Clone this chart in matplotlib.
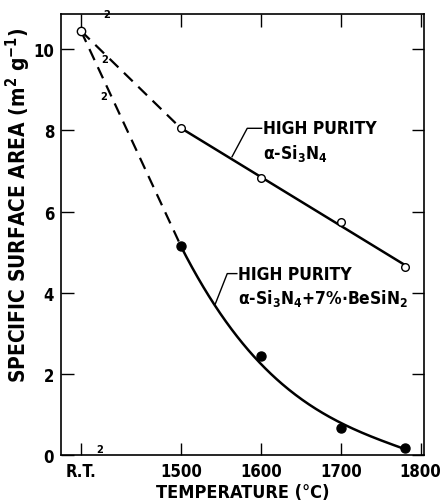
import numpy as np
import matplotlib
matplotlib.use("Agg")
import matplotlib.pyplot as plt

# ---- data ----
rt_pos = 1375                      # position used for "R.T." on the axis
x_tick_pos = [1375, 1500, 1600, 1700, 1800]
x_tick_labels = ["R.T.", "1500", "1600", "1700", "1800"]
y_ticks = [0, 2, 4, 6, 8, 10]

rt_value = 10.45                   # common room-temperature point

hp_temp = [1500, 1600, 1700, 1780]
hp_area = [8.05, 6.82, 5.74, 4.63]

be_temp = [1500, 1600, 1700, 1780]
be_area = [5.15, 2.44, 0.66, 0.17]

# smooth curve guide points (BeSiN2)
be_curve_t = [1500, 1540, 1600, 1650, 1700, 1780]
be_curve_a = [5.15, 3.75, 2.25, 1.40, 0.78, 0.15]

fam = "DejaVu Sans"
plt.rcParams["font.family"] = [fam]
plt.rcParams["font.weight"] = "bold"
plt.rcParams["font.stretch"] = "condensed"
plt.rcParams["axes.labelweight"] = "bold"
plt.rcParams["mathtext.fontset"] = "custom"
pat = fam + ":weight=bold:stretch=condensed"
plt.rcParams["mathtext.rm"] = pat
plt.rcParams["mathtext.it"] = pat
plt.rcParams["mathtext.bf"] = pat
plt.rcParams["mathtext.default"] = "regular"

fig = plt.figure(figsize=(4.42, 5.02), dpi=100)
ax = fig.add_axes([0.138, 0.0916, 0.821, 0.878])

ax.set_xlim(1350, 1804)
ax.set_ylim(0, 10.86)

# dashed connections from R.T.
ax.plot([rt_pos, hp_temp[0]], [rt_value, hp_area[0]], color="black", lw=1.6,
        ls=(0, (5.5, 3.5)))
ax.plot([rt_pos, be_temp[0]], [rt_value, be_area[0]], color="black", lw=1.6,
        ls=(0, (5.5, 3.5)))

# high purity line (linear fit)
c = np.polyfit(hp_temp, hp_area, 1)
xx = np.array([hp_temp[0], hp_temp[-1]])
ax.plot(xx, np.polyval(c, xx), color="black", lw=1.8)

# BeSiN2 smooth curve
c2 = np.polyfit(be_curve_t, be_curve_a, 3)
xs = np.linspace(be_curve_t[0], be_curve_t[-1], 200)
ax.plot(xs, np.polyval(c2, xs), color="black", lw=1.8)

# markers
ax.plot(hp_temp, hp_area, "o", ms=5.5, mfc="white", mec="black", mew=1.0, zorder=5)
ax.plot(be_temp, be_area, "o", ms=6.5, mfc="black", mec="black", zorder=5)
ax.plot([rt_pos], [rt_value], "o", ms=6, mfc="white", mec="black", mew=1.0, zorder=6)

# break marks
for bx, by in [(1405, 9.75), (1404, 8.85)]:
    ax.text(bx, by, "2", fontsize=8, ha="center", va="center", fontweight="bold")
ax.text(1407, 10.86, "2", fontsize=8, ha="center", va="center", fontweight="bold",
        clip_on=False)
ax.text(1398, 0.15, "2", fontsize=8, ha="center", va="center", fontweight="bold",
        clip_on=False)

# annotations
ax.plot([1564, 1583, 1601], [7.35, 8.05, 8.05], color="black", lw=1.0)
ax.text(1603, 8.05, "HIGH PURITY", fontsize=12.5, va="center", ha="left")
ax.text(1603, 7.45, r"α-Si$_3$N$_4$", fontsize=12.5, va="center", ha="left")

ax.plot([1543, 1558, 1570], [3.72, 4.47, 4.47], color="black", lw=1.0)
ax.text(1571, 4.47, "HIGH PURITY", fontsize=12.5, va="center", ha="left")
ax.text(1571, 3.88, r"α-Si$_3$N$_4$+7%$\bullet$BeSiN$_2$", fontsize=12.5,
        va="center", ha="left")

ax.set_xticks(x_tick_pos)
ax.set_xticklabels(x_tick_labels)
ax.set_yticks(y_ticks)
ax.tick_params(direction="in", length=9, width=1.0, top=True, right=True,
               labelsize=12, pad=5)
for s in ax.spines.values():
    s.set_linewidth(1.2)

ax.set_xlabel("TEMPERATURE (°C)", fontsize=13, labelpad=2)
ax.set_ylabel(r"SPECIFIC SURFACE AREA (m$^2$ g$^{-1}$)", fontsize=15,
              labelpad=6)
ax.yaxis.set_label_coords(-0.078, 0.57)

fig.savefig("out.png", dpi=100)
